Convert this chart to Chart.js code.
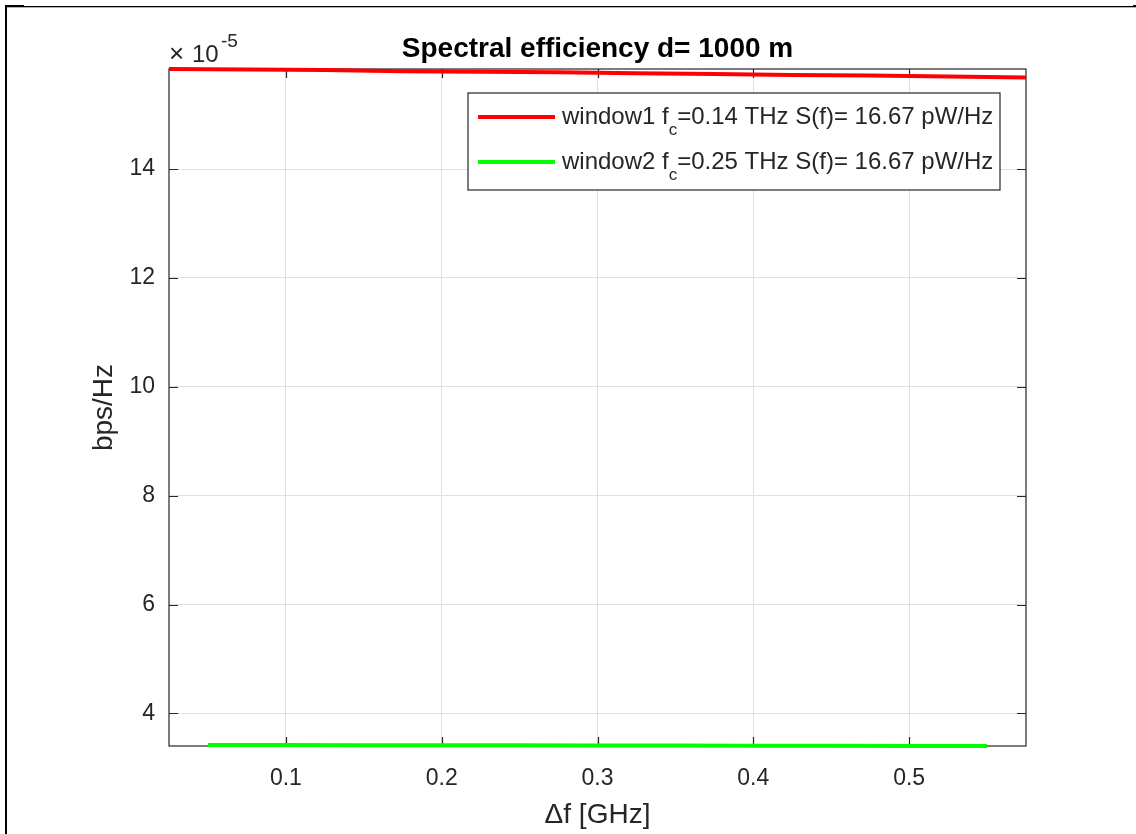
<!DOCTYPE html>
<html>
<head>
<meta charset="utf-8">
<title>Spectral efficiency</title>
<script src="https://cdn.jsdelivr.net/npm/chart.js@4.4.1/dist/chart.umd.min.js"></script>
<style>
  html, body { margin: 0; padding: 0; background: #fff; }
  #wrap { width: 1136px; height: 834px; }
</style>
</head>
<body>
<div id="wrap"><canvas id="efficiencyChart" width="1136" height="834"></canvas></div>
<script>
// spectral efficiency values, in units of 1e-5 bps/Hz
const deltaF1 = [0.025, 0.075, 0.125, 0.175, 0.225, 0.275, 0.325, 0.375, 0.425, 0.475, 0.525, 0.575];
const window1 = [15.84, 15.83, 15.82, 15.80, 15.79, 15.78, 15.76, 15.75, 15.73, 15.72, 15.70, 15.684];
const deltaF2 = [0.05, 0.10, 0.15, 0.20, 0.25, 0.30, 0.35, 0.40, 0.45, 0.50, 0.55];
const window2 = [3.420, 3.418, 3.416, 3.414, 3.412, 3.410, 3.408, 3.406, 3.404, 3.402, 3.400];

const xTicks = [0.1, 0.2, 0.3, 0.4, 0.5];
const yTicks = [4, 6, 8, 10, 12, 14];
const seriesNames = ['window1', 'window2'];
const carrierFreqs = ['0.14', '0.25'];
const psdValues = ['16.67', '16.67'];
const seriesColors = ['#ff0000', '#00ff00'];

const FONT = '"Liberation Sans", Arial, Helvetica, sans-serif';
const INK = '#262626';
const TICK_LEN = 9;

const toPoints = (xs, ys) => xs.map((v, i) => ({ x: v, y: ys[i] }));

const matlabAxes = {
  id: 'matlabAxes',
  beforeDatasetsDraw(chart) {
    const { ctx, chartArea: a, scales: { x, y } } = chart;
    ctx.save();
    ctx.strokeStyle = INK;
    ctx.lineWidth = 1.2;
    ctx.strokeRect(a.left, a.top, a.right - a.left, a.bottom - a.top);
    ctx.beginPath();
    x.ticks.forEach(t => {
      const px = Math.round(x.getPixelForValue(t.value)) + 0.5;
      ctx.moveTo(px, a.bottom); ctx.lineTo(px, a.bottom - TICK_LEN);
      ctx.moveTo(px, a.top); ctx.lineTo(px, a.top + TICK_LEN);
    });
    y.ticks.forEach(t => {
      const py = Math.round(y.getPixelForValue(t.value)) + 0.5;
      ctx.moveTo(a.left, py); ctx.lineTo(a.left + TICK_LEN, py);
      ctx.moveTo(a.right, py); ctx.lineTo(a.right - TICK_LEN, py);
    });
    ctx.stroke();
    ctx.restore();
  },
  afterDraw(chart) {
    const { ctx, chartArea: a } = chart;
    ctx.save();

    // title
    ctx.font = 'bold 28px ' + FONT;
    ctx.textAlign = 'center';
    ctx.textBaseline = 'alphabetic';
    ctx.fillStyle = '#000';
    ctx.fillText('Spectral efficiency d= 1000 m', (a.left + a.right) / 2, 57);

    // exponent
    ctx.fillStyle = INK;
    ctx.textAlign = 'left';
    ctx.font = '26px ' + FONT;
    ctx.fillText('\u00d7', a.left, 62);
    ctx.font = '24px ' + FONT;
    ctx.fillText('10', a.left + 23, 62);
    ctx.font = '19px ' + FONT;
    ctx.fillText('-5', a.left + 52, 47);

    // legend
    const box = { l: 468, t: 93, r: 1000, b: 190 };
    ctx.fillStyle = '#fff';
    ctx.fillRect(box.l, box.t, box.r - box.l, box.b - box.t);
    ctx.strokeStyle = INK;
    ctx.lineWidth = 1.2;
    ctx.strokeRect(box.l, box.t, box.r - box.l, box.b - box.t);
    const rows = [117, 162];
    rows.forEach((ry, i) => {
      ctx.strokeStyle = seriesColors[i];
      ctx.lineWidth = 4;
      ctx.beginPath();
      ctx.moveTo(478, ry); ctx.lineTo(555, ry);
      ctx.stroke();
      ctx.fillStyle = INK;
      ctx.textBaseline = 'middle';
      let tx = 562;
      ctx.font = '24px ' + FONT;
      const head = seriesNames[i] + ' f';
      ctx.fillText(head, tx, ry);
      tx += ctx.measureText(head).width;
      ctx.font = '17px ' + FONT;
      ctx.fillText('c', tx, ry + 13);
      tx += ctx.measureText('c').width;
      ctx.font = '24px ' + FONT;
      ctx.fillText('=' + carrierFreqs[i] + ' THz S(f)= ' + psdValues[i] + ' pW/Hz', tx, ry);
    });

    // figure frame
    ctx.fillStyle = '#000';
    ctx.fillRect(5, 5, 2, chart.height - 5);
    ctx.fillRect(5, 6, chart.width - 5, 1.3);
    ctx.fillRect(5, 5, 19, 2);
    ctx.fillRect(chart.width - 3, 5, 3, 2);
    ctx.restore();
  }
};

new Chart(document.getElementById('efficiencyChart'), {
  type: 'line',
  data: {
    datasets: [
      { label: seriesNames[0], data: toPoints(deltaF1, window1), borderColor: seriesColors[0], borderWidth: 4, pointRadius: 0, clip: false },
      { label: seriesNames[1], data: toPoints(deltaF2, window2), borderColor: seriesColors[1], borderWidth: 4, pointRadius: 0, clip: false }
    ]
  },
  options: {
    responsive: false,
    animation: false,
    layout: { padding: { top: 69, right: 110, left: 0, bottom: 0 } },
    plugins: { legend: { display: false }, tooltip: { enabled: false }, title: { display: false } },
    scales: {
      x: {
        type: 'linear',
        min: 0.025,
        max: 0.575,
        afterBuildTicks: s => { s.ticks = xTicks.map(v => ({ value: v })); },
        afterFit: s => { s.height = 88; },
        grid: { color: '#e0e0e0', drawTicks: false },
        border: { display: false },
        ticks: { color: INK, font: { family: FONT, size: 23 }, padding: 19, maxRotation: 0, callback: v => v.toFixed(1) },
        title: { display: true, text: '\u0394f [GHz]', color: INK, font: { family: FONT, size: 28 }, padding: { top: 0, bottom: 2 } }
      },
      y: {
        min: 3.40,
        max: 15.84,
        afterBuildTicks: s => { s.ticks = yTicks.map(v => ({ value: v })); },
        afterFit: s => { s.width = 169; },
        grid: { color: '#e0e0e0', drawTicks: false },
        border: { display: false },
        ticks: { color: INK, font: { family: FONT, size: 23 }, padding: 14, callback: v => String(v) },
        title: { display: true, text: 'bps/Hz', color: INK, font: { family: FONT, size: 28 }, padding: { top: 87, bottom: 0 } }
      }
    }
  },
  plugins: [matlabAxes]
});
</script>
</body>
</html>
